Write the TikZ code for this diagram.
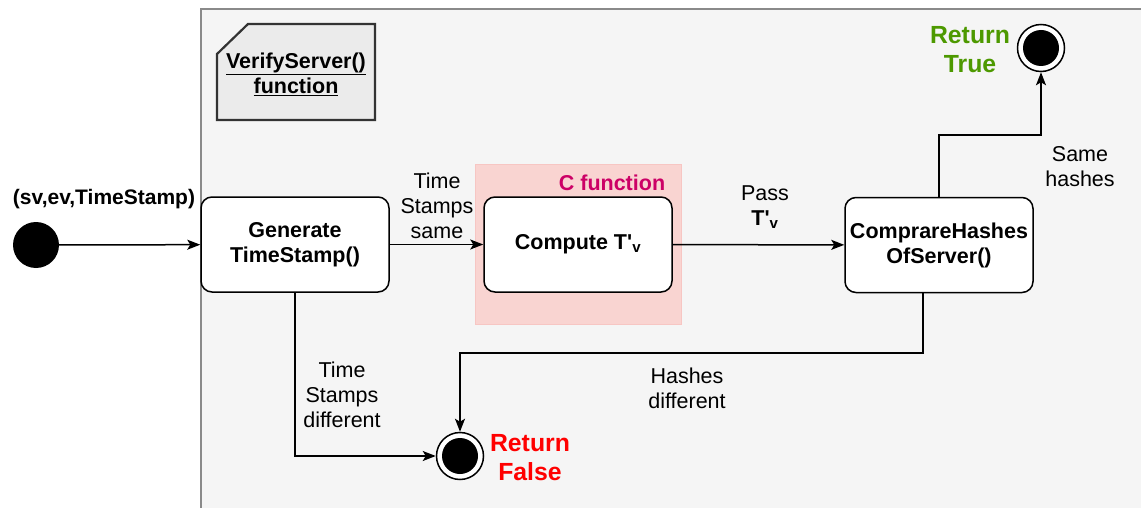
\documentclass[tikz,border=0pt]{standalone}
\usepackage{fontspec}
\setmainfont{Liberation Sans}
\usetikzlibrary{arrows.meta,positioning}
\definecolor{framefill}{HTML}{F5F5F5}
\definecolor{framedraw}{HTML}{8A8A8A}
\definecolor{notefill}{HTML}{EBEBEB}
\definecolor{notedraw}{HTML}{333333}
\definecolor{cfill}{HTML}{F9D4D1}
\definecolor{cdraw}{HTML}{F7C6C3}
\definecolor{cmagenta}{HTML}{CC0066}
\definecolor{truegreen}{HTML}{4D9900}
\definecolor{falsered}{HTML}{FF0000}
\newcommand{\Tv}{T\textquotesingle\textsubscript{v}}
\tikzset{
  lbl/.style={font=\fontsize{21.5}{25}\selectfont, align=center, inner sep=0pt},
  blbl/.style={lbl, font=\fontsize{21.5}{25}\selectfont\bfseries},
  retlbl/.style={align=center, inner sep=0pt, font=\fontsize{24.8}{29}\selectfont\bfseries},
  statebox/.style={draw, line width=1.5pt, fill=white, rounded corners=11pt,
    minimum width=188pt, minimum height=95pt, align=center, inner sep=0pt,
    font=\fontsize{21.5}{25}\selectfont\bfseries},
  endstate/.style={circle, draw, line width=1.5pt, fill=white, minimum size=47pt, inner sep=0pt},
  flow/.style={line width=1.5pt, -{Stealth[length=13pt,width=10pt,inset=3pt]}}
}
\begin{document}
\begin{tikzpicture}[x=1pt,y=-1pt]
\useasboundingbox (0,0) rectangle (1141,508);
% outer function frame
\draw[fill=framefill, draw=framedraw, line width=1.5pt] (201,9) rectangle (1150,520);
% note with cut corner
\draw[fill=notefill, draw=notedraw, line width=2.2pt]
  (248,24) -- (375,24) -- (375,120) -- (217,120) -- (217,54) -- cycle;
\node[blbl] (note) at (296,74) {\underline{VerifyServer()}\\\underline{function}};
% C function region
\draw[fill=cfill, draw=cdraw, line width=1pt] (475,165) rectangle (681,324);
\node[blbl, text=cmagenta] (cfun) at (612,183) {C function};
% states
\node[circle, fill=black, minimum size=46pt, inner sep=0pt] (start) at (36,245) {};
\node[blbl, font=\fontsize{21}{25}\selectfont\bfseries] (args) at (104,199) {(sv,ev,TimeStamp)};
\node[statebox] (gen) at (295,244.5) {Generate\\TimeStamp()};
\node[statebox] (comp) at (578,244.5) {Compute \Tv};
\node[statebox] (cmp) at (939,245) {ComprareHashes\\OfServer()};
\node[endstate] (tEnd) at (1041,48) {};
\fill (tEnd.center) circle (18);
\node[endstate] (fEnd) at (460,456) {};
\fill (fEnd.center) circle (18);
\node[retlbl, text=truegreen] (tret) at (970,50) {Return\\True};
\node[retlbl, text=falsered] (fret) at (530,458) {Return\\False};
% bend points
\coordinate (tb) at (990,135);
\coordinate (hb) at (700,353);
% transitions
\draw[flow] (start) -- (gen);
\draw[flow] (gen) -- (comp);
\draw[flow] (comp) -- (cmp);
\draw[flow] (cmp.north) |- (tb) -| (tEnd.south);
\draw[flow] ([xshift=-16pt]cmp.south) |- (hb) -| (fEnd.north);
\draw[flow] (gen.south) |- (fEnd.west);
% transition labels
\node[lbl] (l1) at (437,206) {Time\\Stamps\\same};
\node[lbl] (l2) at (765,207) {Pass\\\textbf{\Tv}};
\node[lbl] (l3) at (1080,167) {Same\\hashes};
\node[lbl] (l4) at (687,388) {Hashes\\different};
\node[lbl] (l5) at (342,395) {Time\\Stamps\\different};
\end{tikzpicture}
\end{document}
